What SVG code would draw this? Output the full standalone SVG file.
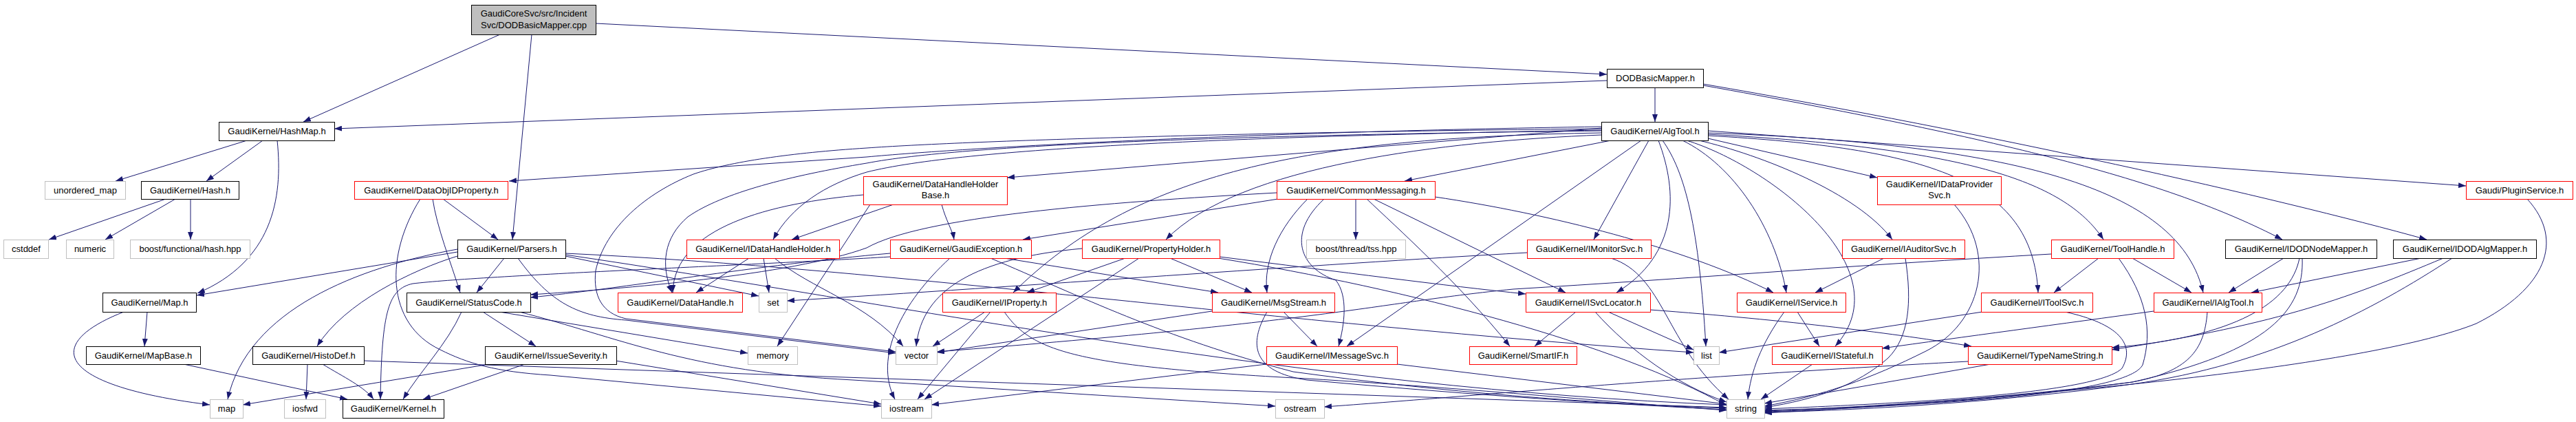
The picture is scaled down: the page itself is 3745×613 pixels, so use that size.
<svg xmlns="http://www.w3.org/2000/svg" width="3745" height="613" viewBox="0 0 3745 613">
<defs>
<style>
.nb{fill:#fff;stroke:#000;stroke-width:1}
.nr{fill:#fff;stroke:#f00;stroke-width:1}
.ng{fill:#fff;stroke:#bfbfbf;stroke-width:1}
.nm{fill:#bfbfbf;stroke:#000;stroke-width:1}
text{font-family:"Liberation Sans",Arial,Helvetica,sans-serif;font-size:13px;text-anchor:middle;fill:#000}
#edges path{fill:none;stroke:#191970;stroke-width:1;marker-end:url(#arr)}
</style>
<marker id="arr" markerUnits="userSpaceOnUse" viewBox="0 0 11 8" markerWidth="11" markerHeight="8" refX="11" refY="4" orient="auto"><path d="M0,0 L11,4 L0,8 z" fill="#191970"/></marker>
</defs>
<rect width="3745" height="613" fill="#fff"/>
<g id="edges">
<path d="M866,34 L2336,108"/>
<path d="M727,50 L441,177"/>
<path d="M773,50 L745,348"/>
<path d="M2336,117 L486,187"/>
<path d="M2406,127 L2406,177"/>
<path d="M2476,122 C2900,195 3300,285 3528,348"/>
<path d="M2476,124 C2900,200 3150,260 3318,348"/>
<path d="M359,204 L168,263"/>
<path d="M382,204 L300,263"/>
<path d="M403,204 C412,290 395,380 287,426"/>
<path d="M241,289 L71,348"/>
<path d="M255,289 L153,348"/>
<path d="M277,289 L277,348"/>
<path d="M214,453 L210,503"/>
<path d="M180,453 C60,500 80,560 305,588"/>
<path d="M267,529 L505,580"/>
<path d="M447,529 L445,580"/>
<path d="M469,529 C500,548 530,562 543,580"/>
<path d="M529,524 L2510,592"/>
<path d="M665,366 L286,429"/>
<path d="M665,362 C520,388 360,450 331,580"/>
<path d="M665,372 C600,392 500,440 461,503"/>
<path d="M733,375 L693,425"/>
<path d="M822,372 L1103,430"/>
<path d="M753,375 C800,440 840,460 910,465 L1302,513"/>
<path d="M822,370 C1300,440 1900,565 2510,588"/>
<path d="M822,368 C1300,390 1850,470 2462,512"/>
<path d="M644,289 L724,348"/>
<path d="M629,289 C635,330 655,380 669,425"/>
<path d="M611,289 C560,370 560,470 640,508 C680,528 720,540 800,545 L1281,590"/>
<path d="M671,453 C650,500 610,540 586,580"/>
<path d="M702,453 L779,503"/>
<path d="M726,453 L1087,513"/>
<path d="M755,453 C900,490 1000,540 1240,552 L1854,590"/>
<path d="M763,529 L615,580"/>
<path d="M705,530 L353,588"/>
<path d="M895,524 L1281,587"/>
<path d="M1299,297 L1151,348"/>
<path d="M1369,297 C1375,320 1385,335 1387,348"/>
<path d="M1255,283 C1120,295 980,330 978,425"/>
<path d="M1265,297 L1130,503"/>
<path d="M1089,375 L1012,425"/>
<path d="M1110,375 L1118,425"/>
<path d="M1126,375 C1180,420 1260,440 1313,503"/>
<path d="M1294,373 C1100,385 700,400 600,412 C565,420 555,450 553,580"/>
<path d="M1294,368 C1100,385 900,420 771,432"/>
<path d="M1381,375 C1310,440 1270,520 1301,580"/>
<path d="M1440,375 C1570,430 1690,490 1880,540 C2100,570 2300,585 2510,593"/>
<path d="M1460,375 L1771,425"/>
<path d="M1636,375 L1493,425"/>
<path d="M1656,375 L1344,580"/>
<path d="M1701,375 L1820,425"/>
<path d="M1573,361 C1420,375 1340,420 1332,503"/>
<path d="M1773,373 C1950,395 2100,415 2218,427"/>
<path d="M1771,375 C2050,420 2350,500 2510,589"/>
<path d="M1432,453 L1356,503"/>
<path d="M1440,453 L1334,580"/>
<path d="M1460,453 C1500,510 1560,532 1900,550 C2150,565 2350,585 2510,596"/>
<path d="M1866,453 L1915,503"/>
<path d="M1842,453 C1815,500 1820,540 1900,552 C2100,570 2300,585 2510,595"/>
<path d="M1762,452 L1362,512"/>
<path d="M1841,529 L1354,588"/>
<path d="M2031,529 L2510,587"/>
<path d="M1901,289 C1860,330 1836,380 1842,425"/>
<path d="M1925,289 C1870,340 1890,390 1942,407 C1960,430 1955,470 1946,503"/>
<path d="M1971,289 L1971,348"/>
<path d="M1987,289 C2030,330 2120,410 2195,503"/>
<path d="M1997,289 L2276,425"/>
<path d="M2086,286 C2250,310 2450,360 2578,425"/>
<path d="M1858,289 L1487,348"/>
<path d="M1856,280 C1600,294 1340,315 1260,360 C1150,400 900,420 771,428"/>
<path d="M2291,453 L2231,503"/>
<path d="M2338,453 L2462,508"/>
<path d="M2319,453 C2370,510 2440,560 2510,584"/>
<path d="M2399,450 C2600,465 2760,485 2866,503"/>
<path d="M2220,367 C1900,385 1500,415 1144,437"/>
<path d="M2342,375 C2420,400 2420,500 2513,580"/>
<path d="M2328,184 C1800,192 1400,215 1260,228 L740,263"/>
<path d="M2328,186 L1464,258"/>
<path d="M2328,189 C1800,198 1400,215 1260,250 C1200,268 1150,300 1124,348"/>
<path d="M2328,190 C1800,196 1400,210 1260,237 C1150,255 1050,280 1000,315 C965,345 960,385 977,425"/>
<path d="M2328,187 C1800,192 1400,205 1260,215 C1150,222 1060,235 1008,253 C940,280 880,330 866,393 C862,430 875,455 910,463 L1302,511"/>
<path d="M2342,204 L2042,263"/>
<path d="M2328,196 C2100,205 1800,240 1695,348"/>
<path d="M2328,193 C1900,200 1650,250 1473,425"/>
<path d="M2386,204 L1958,503"/>
<path d="M2397,204 L2317,348"/>
<path d="M2411,204 C2440,280 2440,370 2350,425"/>
<path d="M2417,204 C2450,250 2470,330 2480,503"/>
<path d="M2446,204 C2520,240 2580,330 2597,425"/>
<path d="M2452,204 C2570,240 2770,390 2668,503"/>
<path d="M2470,204 C2560,225 2700,280 2751,348"/>
<path d="M2483,201 L2729,258"/>
<path d="M2483,197 C2800,215 2955,260 2963,425"/>
<path d="M2483,195 C2850,215 3000,260 3058,348"/>
<path d="M2483,193 C2950,210 3170,280 3203,425"/>
<path d="M2483,190 L3585,270"/>
<path d="M2841,297 C2905,370 2880,470 2800,510 C2720,550 2650,575 2565,590"/>
<path d="M2739,375 L2639,425"/>
<path d="M2770,375 C2780,440 2775,490 2745,520 C2700,560 2640,580 2565,592"/>
<path d="M2613,453 L2645,503"/>
<path d="M2594,453 C2560,500 2545,540 2541,580"/>
<path d="M2635,529 L2560,580"/>
<path d="M2882,453 L2499,512"/>
<path d="M3002,453 C3080,470 3105,500 3085,535 C3050,570 2800,585 2565,594"/>
<path d="M3051,375 L2986,425"/>
<path d="M3100,375 L3186,425"/>
<path d="M3080,375 C3120,430 3130,480 3115,530 C3095,570 2850,588 2565,596"/>
<path d="M2982,369 C2700,385 2450,405 2200,420 C2000,440 1950,465 1362,511"/>
<path d="M2894,529 L2565,586"/>
<path d="M2861,525 C2400,550 2150,575 1925,591"/>
<path d="M3131,452 C3000,470 2850,490 2736,506"/>
<path d="M3209,453 C3205,510 3180,540 3100,555 C2900,580 2700,592 2565,597"/>
<path d="M3320,375 L3240,425"/>
<path d="M3343,375 C3330,440 3250,490 3070,505"/>
<path d="M3347,375 C3350,450 3300,510 3100,555 C2900,582 2700,594 2565,598"/>
<path d="M3520,375 L3273,425"/>
<path d="M3552,375 C3420,430 3320,470 3070,508"/>
<path d="M3565,375 C3450,450 3300,530 3100,558 C2900,585 2700,596 2565,599"/>
<path d="M3674,289 C3730,350 3700,420 3600,470 C3450,530 3000,575 2565,600"/>
</g>
<g id="n_main"><rect class="nm" x="685.5" y="7.5" width="181" height="43"/><text x="776" y="24">GaudiCoreSvc/src/Incident</text><text x="776" y="41">Svc/DODBasicMapper.cpp</text></g>
<g id="n_dodbasicmapper_h"><rect class="nb" x="2336.5" y="100.5" width="140" height="27"/><text x="2406.5" y="118">DODBasicMapper.h</text></g>
<g id="n_hashmap"><rect class="nb" x="318.5" y="177.5" width="168" height="27"/><text x="402.5" y="195">GaudiKernel/HashMap.h</text></g>
<g id="n_algtool"><rect class="nb" x="2328.5" y="177.5" width="155" height="27"/><text x="2406" y="195">GaudiKernel/AlgTool.h</text></g>
<g id="n_unordered_map"><rect class="ng" x="65.5" y="263.5" width="117" height="26"/><text x="124" y="281">unordered_map</text></g>
<g id="n_hash"><rect class="nb" x="205.5" y="263.5" width="142" height="26"/><text x="276.5" y="281">GaudiKernel/Hash.h</text></g>
<g id="n_dataobjidproperty"><rect class="nr" x="515.5" y="263.5" width="223" height="26"/><text x="627" y="281">GaudiKernel/DataObjIDProperty.h</text></g>
<g id="n_datahandleholderbase"><rect class="nr" x="1255.5" y="256.5" width="209" height="41"/><text x="1360" y="272">GaudiKernel/DataHandleHolder</text><text x="1360" y="288">Base.h</text></g>
<g id="n_commonmessaging"><rect class="nr" x="1856.5" y="263.5" width="230" height="26"/><text x="1971.5" y="281">GaudiKernel/CommonMessaging.h</text></g>
<g id="n_idataprovidersvc"><rect class="nr" x="2729.5" y="256.5" width="180" height="41"/><text x="2819.5" y="272">GaudiKernel/IDataProvider</text><text x="2819.5" y="288">Svc.h</text></g>
<g id="n_pluginservice"><rect class="nr" x="3585.5" y="263.5" width="155" height="26"/><text x="3663" y="281">Gaudi/PluginService.h</text></g>
<g id="n_cstddef"><rect class="ng" x="5.5" y="348.5" width="65" height="27"/><text x="38" y="366">cstddef</text></g>
<g id="n_numeric"><rect class="ng" x="96.5" y="348.5" width="69" height="27"/><text x="131" y="366">numeric</text></g>
<g id="n_boost_hash"><rect class="ng" x="189.5" y="348.5" width="174" height="27"/><text x="276.5" y="366">boost/functional/hash.hpp</text></g>
<g id="n_parsers"><rect class="nb" x="665.5" y="348.5" width="157" height="27"/><text x="744" y="366">GaudiKernel/Parsers.h</text></g>
<g id="n_idatahandleholder"><rect class="nr" x="998.5" y="348.5" width="222" height="27"/><text x="1109.5" y="366">GaudiKernel/IDataHandleHolder.h</text></g>
<g id="n_gaudiexception"><rect class="nr" x="1294.5" y="348.5" width="205" height="27"/><text x="1397" y="366">GaudiKernel/GaudiException.h</text></g>
<g id="n_propertyholder"><rect class="nr" x="1573.5" y="348.5" width="200" height="27"/><text x="1673.5" y="366">GaudiKernel/PropertyHolder.h</text></g>
<g id="n_boost_tss"><rect class="ng" x="1899.5" y="348.5" width="144" height="27"/><text x="1971.5" y="366">boost/thread/tss.hpp</text></g>
<g id="n_imonitorsvc"><rect class="nr" x="2220.5" y="348.5" width="180" height="27"/><text x="2310.5" y="366">GaudiKernel/IMonitorSvc.h</text></g>
<g id="n_iauditorsvc"><rect class="nr" x="2678.5" y="348.5" width="178" height="27"/><text x="2767.5" y="366">GaudiKernel/IAuditorSvc.h</text></g>
<g id="n_toolhandle"><rect class="nr" x="2982.5" y="348.5" width="178" height="27"/><text x="3071.5" y="366">GaudiKernel/ToolHandle.h</text></g>
<g id="n_idodnodemapper"><rect class="nb" x="3235.5" y="348.5" width="220" height="27"/><text x="3345.5" y="366">GaudiKernel/IDODNodeMapper.h</text></g>
<g id="n_idodalgmapper"><rect class="nb" x="3479.5" y="348.5" width="208" height="27"/><text x="3583.5" y="366">GaudiKernel/IDODAlgMapper.h</text></g>
<g id="n_map_h"><rect class="nb" x="149.5" y="425.5" width="136" height="28"/><text x="217.5" y="444">GaudiKernel/Map.h</text></g>
<g id="n_statuscode"><rect class="nb" x="591.5" y="425.5" width="180" height="28"/><text x="681.5" y="444">GaudiKernel/StatusCode.h</text></g>
<g id="n_datahandle"><rect class="nr" x="898.5" y="425.5" width="181" height="28"/><text x="989" y="444">GaudiKernel/DataHandle.h</text></g>
<g id="n_set"><rect class="ng" x="1103.5" y="425.5" width="41" height="28"/><text x="1124" y="444">set</text></g>
<g id="n_iproperty"><rect class="nr" x="1370.5" y="425.5" width="165" height="28"/><text x="1453" y="444">GaudiKernel/IProperty.h</text></g>
<g id="n_msgstream"><rect class="nr" x="1762.5" y="425.5" width="178" height="28"/><text x="1851.5" y="444">GaudiKernel/MsgStream.h</text></g>
<g id="n_isvclocator"><rect class="nr" x="2218.5" y="425.5" width="181" height="28"/><text x="2309" y="444">GaudiKernel/ISvcLocator.h</text></g>
<g id="n_iservice"><rect class="nr" x="2525.5" y="425.5" width="158" height="28"/><text x="2604.5" y="444">GaudiKernel/IService.h</text></g>
<g id="n_itoolsvc"><rect class="nr" x="2880.5" y="425.5" width="162" height="28"/><text x="2961.5" y="444">GaudiKernel/IToolSvc.h</text></g>
<g id="n_ialgtool"><rect class="nr" x="3131.5" y="425.5" width="157" height="28"/><text x="3210" y="444">GaudiKernel/IAlgTool.h</text></g>
<g id="n_mapbase"><rect class="nb" x="125.5" y="503.5" width="166" height="26"/><text x="208.5" y="521">GaudiKernel/MapBase.h</text></g>
<g id="n_histodef"><rect class="nb" x="367.5" y="503.5" width="162" height="26"/><text x="448.5" y="521">GaudiKernel/HistoDef.h</text></g>
<g id="n_issueseverity"><rect class="nb" x="705.5" y="503.5" width="191" height="26"/><text x="801" y="521">GaudiKernel/IssueSeverity.h</text></g>
<g id="n_memory"><rect class="ng" x="1087.5" y="503.5" width="72" height="26"/><text x="1123.5" y="521">memory</text></g>
<g id="n_vector"><rect class="ng" x="1302.5" y="503.5" width="60" height="26"/><text x="1332.5" y="521">vector</text></g>
<g id="n_imessagesvc"><rect class="nr" x="1841.5" y="503.5" width="190" height="26"/><text x="1936.5" y="521">GaudiKernel/IMessageSvc.h</text></g>
<g id="n_smartif"><rect class="nr" x="2136.5" y="503.5" width="156" height="26"/><text x="2214.5" y="521">GaudiKernel/SmartIF.h</text></g>
<g id="n_list"><rect class="ng" x="2462.5" y="503.5" width="37" height="26"/><text x="2481" y="521">list</text></g>
<g id="n_istateful"><rect class="nr" x="2576.5" y="503.5" width="160" height="26"/><text x="2656.5" y="521">GaudiKernel/IStateful.h</text></g>
<g id="n_typenamestring"><rect class="nr" x="2861.5" y="503.5" width="209" height="26"/><text x="2966" y="521">GaudiKernel/TypeNameString.h</text></g>
<g id="n_map"><rect class="ng" x="305.5" y="580.5" width="48" height="27"/><text x="329.5" y="598">map</text></g>
<g id="n_iosfwd"><rect class="ng" x="413.5" y="580.5" width="60" height="27"/><text x="443.5" y="598">iosfwd</text></g>
<g id="n_kernel"><rect class="nb" x="498.5" y="580.5" width="147" height="27"/><text x="572" y="598">GaudiKernel/Kernel.h</text></g>
<g id="n_iostream"><rect class="ng" x="1281.5" y="580.5" width="73" height="27"/><text x="1318" y="598">iostream</text></g>
<g id="n_ostream"><rect class="ng" x="1854.5" y="580.5" width="71" height="27"/><text x="1890" y="598">ostream</text></g>
<g id="n_string"><rect class="ng" x="2510.5" y="580.5" width="55" height="27"/><text x="2538" y="598">string</text></g>
</svg>
